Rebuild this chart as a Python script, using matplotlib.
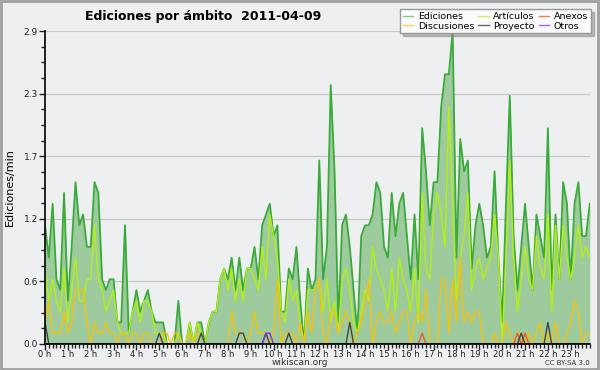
import numpy as np
import matplotlib
matplotlib.use("Agg")
import matplotlib.pyplot as plt
from matplotlib.lines import Line2D
from matplotlib.patches import Rectangle
from matplotlib.ticker import MultipleLocator, AutoMinorLocator, FixedLocator

# edits per minute, 10-minute bins (144 per day)
ediciones = [
    1.1, 0.8, 1.3, 0.6, 0.5, 1.4, 0.4, 0.9, 1.5, 1.1, 1.2, 0.9,
    0.9, 1.5, 1.4, 0.6, 0.5, 0.6, 0.6, 0.2, 0.2, 1.1, 0.1, 0.3,
    0.5, 0.3, 0.4, 0.5, 0.3, 0.2, 0.2, 0.2, 0.0, 0.0, 0.0, 0.4,
    0.0, 0.0, 0.2, 0.0, 0.2, 0.2, 0.0, 0.2, 0.3, 0.3, 0.6, 0.7,
    0.6, 0.8, 0.5, 0.8, 0.5, 0.7, 0.7, 0.9, 0.6, 1.1, 1.2, 1.3,
    1.0, 1.1, 0.3, 0.3, 0.7, 0.6, 0.9, 0.4, 0.0, 0.7, 0.5, 0.6,
    1.7, 0.6, 0.9, 2.4, 1.6, 0.2, 1.1, 1.2, 0.9, 0.5, 0.1, 1.0,
    1.1, 1.1, 1.2, 1.5, 1.4, 0.9, 0.8, 1.4, 1.0, 1.3, 1.4, 1.0,
    0.6, 1.2, 0.6, 2.0, 1.6, 1.1, 1.5, 1.5, 2.2, 2.5, 2.5, 2.9,
    0.8, 1.9, 1.6, 1.7, 0.7, 1.1, 1.3, 1.1, 0.8, 0.9, 1.6, 0.8,
    0.2, 1.3, 2.3, 1.0, 0.5, 0.9, 1.3, 0.9, 0.5, 1.2, 1.0, 0.8,
    2.0, 0.5, 1.2, 0.6, 1.5, 1.3, 0.6, 1.3, 1.5, 1.0, 1.0, 1.3,
]
articulos = [
    0.7, 0.4, 0.6, 0.4, 0.3, 0.7, 0.2, 0.5, 0.8, 0.4, 0.4, 0.6,
    0.6, 1.1, 0.6, 0.5, 0.3, 0.4, 0.5, 0.2, 0.1, 0.1, 0.1, 0.3,
    0.4, 0.2, 0.4, 0.4, 0.3, 0.1, 0.1, 0.1, 0.0, 0.0, 0.0, 0.1,
    0.0, 0.0, 0.2, 0.0, 0.2, 0.1, 0.0, 0.2, 0.3, 0.3, 0.6, 0.7,
    0.5, 0.7, 0.4, 0.6, 0.4, 0.7, 0.7, 0.6, 0.5, 0.9, 0.6, 1.2,
    1.0, 0.8, 0.3, 0.2, 0.6, 0.4, 0.5, 0.2, 0.0, 0.5, 0.5, 0.5,
    0.6, 0.3, 0.6, 0.2, 0.4, 0.1, 0.6, 0.7, 0.5, 0.2, 0.1, 0.3,
    0.5, 0.4, 0.9, 0.7, 0.6, 0.5, 0.3, 0.7, 0.3, 0.8, 0.6, 0.5,
    0.3, 0.7, 0.2, 1.4, 0.7, 0.6, 1.2, 1.4, 1.2, 0.9, 2.2, 1.3,
    0.4, 0.8, 1.0, 1.4, 0.5, 0.7, 0.8, 0.6, 0.7, 0.8, 1.2, 0.8,
    0.0, 0.8, 1.7, 0.8, 0.3, 0.6, 0.9, 0.6, 0.5, 1.0, 0.7, 0.6,
    1.2, 0.3, 1.1, 0.6, 1.1, 0.8, 0.6, 0.8, 1.1, 0.8, 0.9, 0.8,
]
discusiones = [
    0.2, 0.4, 0.1, 0.1, 0.1, 0.3, 0.1, 0.2, 0.5, 0.5, 0.5, 0.2,
    0.0, 0.2, 0.1, 0.1, 0.2, 0.1, 0.1, 0.0, 0.1, 0.1, 0.0, 0.1,
    0.1, 0.0, 0.1, 0.1, 0.0, 0.0, 0.0, 0.1, 0.1, 0.0, 0.1, 0.1,
    0.0, 0.0, 0.1, 0.0, 0.1, 0.1, 0.0, 0.0, 0.0, 0.0, 0.0, 0.0,
    0.0, 0.3, 0.1, 0.1, 0.1, 0.0, 0.1, 0.3, 0.1, 0.1, 0.1, 0.0,
    0.1, 0.6, 0.0, 0.1, 0.1, 0.1, 0.0, 0.2, 0.0, 0.3, 0.1, 0.5,
    0.6, 0.1, 0.0, 0.3, 0.3, 0.1, 0.2, 0.3, 0.2, 0.0, 0.1, 0.2,
    0.4, 0.6, 0.0, 0.2, 0.3, 0.2, 0.2, 0.3, 0.1, 0.2, 0.3, 0.3,
    0.0, 0.2, 0.3, 0.2, 0.5, 0.0, 0.0, 0.0, 0.6, 0.6, 0.1, 0.6,
    0.2, 0.8, 0.2, 0.3, 0.2, 0.3, 0.3, 0.0, 0.0, 0.0, 0.1, 0.0,
    0.0, 0.2, 0.1, 0.0, 0.1, 0.1, 0.0, 0.1, 0.0, 0.1, 0.2, 0.0,
    0.1, 0.0, 0.2, 0.0, 0.0, 0.1, 0.2, 0.4, 0.3, 0.0, 0.1, 0.1,
]
# sparse series: {bin index: value}, everything else is zero
proyecto_pts = {0: 0.2, 30: 0.1, 41: 0.1, 51: 0.1, 52: 0.1, 58: 0.1,
                64: 0.1, 80: 0.2, 125: 0.1, 132: 0.2}
anexos_pts = {99: 0.1, 124: 0.1, 126: 0.1}
otros_pts = {58: 0.1, 59: 0.1}

hour_labels = [f"{h} h" for h in range(24)]

n = len(ediciones)
hours = np.arange(n) / 6.0
proyecto = np.zeros(n)
for k, v in proyecto_pts.items():
    proyecto[k] = v
anexos = np.zeros(n)
for k, v in anexos_pts.items():
    anexos[k] = v
otros = np.zeros(n)
for k, v in otros_pts.items():
    otros[k] = v

bg = "#eeeff1"
c_ed = "#3aaa3a"
c_art = "#b4f014"
c_disc = "#f2c20e"
c_anx = "#ee5a24"
c_proy = "#444444"
c_otros = "#8030e8"

fig = plt.figure(figsize=(6, 3.7), dpi=100, facecolor=bg)
ax = fig.add_axes([0.075, 0.0703, 0.908, 0.8457], facecolor=bg)

ax.fill_between(hours, ediciones, 0, color="#9ecb9e", lw=0)
ax.plot(hours, ediciones, color=c_ed, lw=1.3)
ax.plot(hours, articulos, color=c_art, lw=1)
ax.plot(hours, discusiones, color=c_disc, lw=1)
ax.plot(hours, anexos, color=c_anx, lw=1)
ax.plot(hours, proyecto, color=c_proy, lw=1)
ax.plot(hours, otros, color=c_otros, lw=1)

ax.set_xlim(0, hours[-1])
ax.set_ylim(0, 2.9)
ax.xaxis.set_major_locator(FixedLocator(range(24)))
ax.set_xticklabels(hour_labels)
ax.xaxis.set_minor_locator(MultipleLocator(1 / 6))
ax.yaxis.set_major_locator(FixedLocator(np.linspace(0, 2.9, 6)))
ax.yaxis.set_major_formatter(plt.FormatStrFormatter("%.1f"))
ax.yaxis.set_minor_locator(AutoMinorLocator(4))
ax.tick_params(which="major", length=4, width=1, labelsize=6.5, colors="#222222", pad=1)
ax.tick_params(axis="x", which="major", labelsize=6, pad=0)
ax.tick_params(which="minor", length=3, width=1, colors="#222222")
ax.grid(axis="y", color="#c8c8c8", lw=0.9)
ax.set_axisbelow(True)
for s in ("top", "right"):
    ax.spines[s].set_visible(False)
for s in ("left", "bottom"):
    ax.spines[s].set_linewidth(1.2)
ax.set_ylabel("Ediciones/min", fontsize=8, labelpad=6)

fig.text(0.142, 0.955, "Ediciones por ámbito  2011-04-09", fontsize=9,
         fontweight="bold", ha="left", va="center")

handles = [
    Line2D([], [], color="#7fcf7f", lw=1),
    Line2D([], [], color="#f5d45a", lw=1),
    Line2D([], [], color="#c8f064", lw=1),
    Line2D([], [], color="#666666", lw=1),
    Line2D([], [], color="#f08050", lw=1),
    Line2D([], [], color="#a064f0", lw=1),
]
labels = ["Ediciones", "Discusiones", "Artículos", "Proyecto", "Anexos", "Otros"]
leg = fig.legend(handles, labels, ncol=3, loc="upper right",
                 bbox_to_anchor=(0.985, 0.975), fontsize=6.8,
                 frameon=True, fancybox=False, shadow={"color": "0.5"},
                 borderpad=0.3, labelspacing=0.05, handlelength=1.1,
                 handletextpad=0.5, columnspacing=0.4, borderaxespad=0)
leg.get_frame().set_facecolor("#fbfbfb")
leg.get_frame().set_edgecolor("#999999")
leg.get_frame().set_alpha(1)

fig.text(0.5, 0.019, "wikiscan.org", fontsize=6.5, ha="center", va="center", color="#333333")
fig.text(0.983, 0.019, "CC BY-SA 3.0", fontsize=5, ha="right", va="center", color="#333333")
fig.patches.append(Rectangle((0.002, 0.003), 0.994, 0.995, transform=fig.transFigure,
                             fill=False, edgecolor="#a0a0a0", lw=2))

fig.savefig("out.png", dpi=100, facecolor=bg)
